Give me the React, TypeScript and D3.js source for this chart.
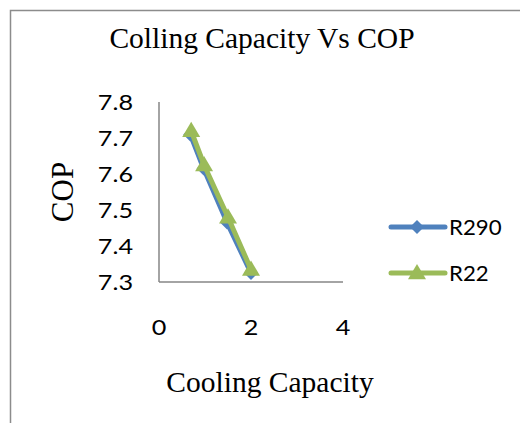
import * as d3 from "d3";

const xTicks = [0, 2, 4];
const yTicks = [7.3, 7.4, 7.5, 7.6, 7.7, 7.8];
const seriesNames = ["R290", "R22"];
const r290Capacity = [0.68, 0.97, 1.48, 2.0];
const r290Cop = [7.71, 7.615, 7.465, 7.325];
const r22Capacity = [0.7, 0.98, 1.5, 2.0];
const r22Cop = [7.72, 7.625, 7.48, 7.335];

const W = 520;
const H = 423;
const plot = { left: 159, right: 343, top: 102, bottom: 282 };
const colors = ["#4F81BD", "#9BBB59"];
const tickFont = "Lato, 'Open Sans', sans-serif";
const serif = "'Liberation Serif', 'Times New Roman', serif";

const x = d3.scaleLinear().domain([0, 4]).range([plot.left, plot.right]);
const y = d3.scaleLinear().domain([7.3, 7.8]).range([plot.bottom, plot.top]);

const series = [
  { name: seriesNames[0], pts: r290Capacity.map((c, i) => [c, r290Cop[i]] as [number, number]) },
  { name: seriesNames[1], pts: r22Capacity.map((c, i) => [c, r22Cop[i]] as [number, number]) },
];

const line = d3
  .line<[number, number]>()
  .x((d) => x(d[0]))
  .y((d) => y(d[1]));

function Marker({ kind, cx, cy, color }: { kind: number; cx: number; cy: number; color: string }) {
  if (kind === 0) {
    const r = 7;
    return <path d={`M${cx},${cy - r}L${cx + r},${cy}L${cx},${cy + r}L${cx - r},${cy}Z`} fill={color} />;
  }
  const s = 9;
  return (
    <path d={`M${cx},${cy - s}L${cx + s},${cy + s * 0.7}L${cx - s},${cy + s * 0.7}Z`} fill={color} />
  );
}

// Calibri-ish labels: Lato, stretched a little sideways
function Label({ x0, y0, anchor, sx = 1.2, children }: { x0: number; y0: number; anchor: string; sx?: number; children: any }) {
  return (
    <text
      transform={`translate(${x0},${y0}) scale(${sx},1)`}
      dy="0.36em"
      textAnchor={anchor}
      fontFamily={tickFont}
      fontSize={21}
      fill="#000"
    >
      {children}
    </text>
  );
}

export default function App() {
  return (
    <svg
      width={W}
      height={H}
      style={{ position: "absolute", left: 0, top: 0, background: "#fff" }}
    >
      <rect x={10.5} y={10.5} width={600} height={500} fill="none" stroke="#8c8c8c" strokeWidth={1.5} />

      <text x={262} y={48} textAnchor="middle" fontFamily={serif} fontSize={29.5} fill="#000">
        Colling Capacity Vs COP
      </text>

      {/* axes */}
      <line x1={plot.left} x2={plot.left} y1={plot.top} y2={plot.bottom} stroke="#868686" strokeWidth={1.5} />
      <line x1={plot.left} x2={plot.right} y1={plot.bottom} y2={plot.bottom} stroke="#868686" strokeWidth={1.5} />

      {yTicks.map((t) => (
        <Label key={t} x0={133} y0={y(t)} anchor="end">
          {t.toFixed(1)}
        </Label>
      ))}
      {xTicks.map((t) => (
        <Label key={t} x0={x(t)} y0={327} anchor="middle">
          {t}
        </Label>
      ))}

      <text
        transform={`translate(73,192) rotate(-90)`}
        textAnchor="middle"
        fontFamily={serif}
        fontSize={31}
        fill="#000"
      >
        COP
      </text>
      <text x={270} y={392} textAnchor="middle" fontFamily={serif} fontSize={29.5} fill="#000">
        Cooling Capacity
      </text>

      {series.map((s, i) => (
        <g key={s.name}>
          <path d={line(s.pts) ?? ""} fill="none" stroke={colors[i]} strokeWidth={5} strokeLinejoin="round" />
          {s.pts.map((p, j) => (
            <Marker key={j} kind={i} cx={x(p[0])} cy={y(p[1])} color={colors[i]} />
          ))}
        </g>
      ))}

      {/* legend */}
      {series.map((s, i) => {
        const ly = 227 + i * 46;
        return (
          <g key={s.name}>
            <line x1={391} x2={445} y1={ly} y2={ly} stroke={colors[i]} strokeWidth={5} strokeLinecap="round" />
            <Marker kind={i} cx={417} cy={ly} color={colors[i]} />
            <Label x0={449} y0={ly} anchor="start" sx={1.06}>
              {s.name}
            </Label>
          </g>
        );
      })}
    </svg>
  );
}
